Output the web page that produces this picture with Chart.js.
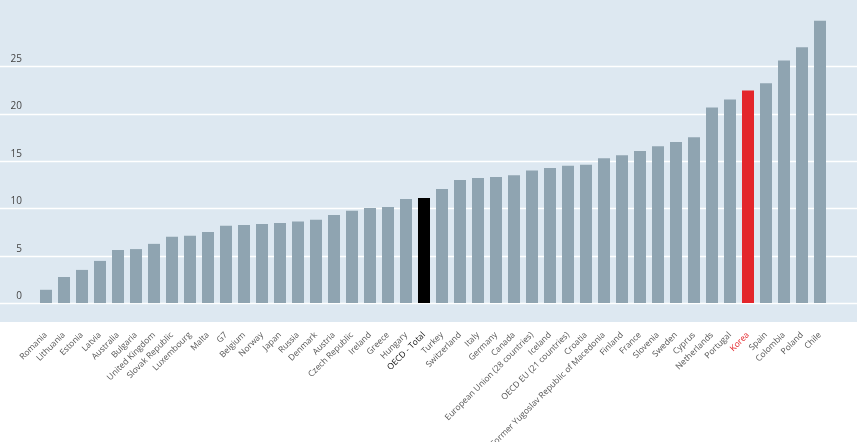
<!DOCTYPE html>
<html>
<head>
<meta charset="utf-8">
<script src="https://cdn.jsdelivr.net/npm/chart.js@4"></script>
<style>
  html, body { margin: 0; padding: 0; background: #fff; }
  #wrap { width: 857px; height: 442px; }
</style>
</head>
<body>
<div id="wrap"><canvas id="chart"></canvas></div>
<script>
// data
const countries = [
  'Romania', 'Lithuania', 'Estonia', 'Latvia', 'Australia', 'Bulgaria',
  'United Kingdom', 'Slovak Republic', 'Luxembourg', 'Malta', 'G7', 'Belgium',
  'Norway', 'Japan', 'Russia', 'Denmark', 'Austria', 'Czech Republic',
  'Ireland', 'Greece', 'Hungary', 'OECD - Total', 'Turkey', 'Switzerland',
  'Italy', 'Germany', 'Canada', 'European Union (28 countries)', 'Iceland',
  'OECD EU (21 countries)', 'Croatia', 'Former Yugoslav Republic of Macedonia',
  'Finland', 'France', 'Slovenia', 'Sweden', 'Cyprus', 'Netherlands',
  'Portugal', 'Korea', 'Spain', 'Colombia', 'Poland', 'Chile'
];
const values = [
  1.4, 2.75, 3.5, 4.45, 5.6, 5.7,
  6.25, 7.0, 7.1, 7.5, 8.15, 8.25,
  8.35, 8.45, 8.6, 8.8, 9.3, 9.75,
  10.05, 10.15, 11.0, 11.1, 12.05, 13.0,
  13.2, 13.3, 13.5, 14.0, 14.25,
  14.5, 14.6, 15.3,
  15.6, 16.05, 16.55, 17.0, 17.5, 20.65,
  21.5, 22.45, 23.2, 25.6, 27.0, 29.8
];
const yTicks = [0, 5, 10, 15, 20, 25];
const highlightRed = 'Korea';
const highlightBlack = 'OECD - Total';

const barColor = c => c === highlightRed ? '#e3262b' : (c === highlightBlack ? '#000000' : '#8fa4b1');
const labelColor = c => c === highlightRed ? '#e3262b' : (c === highlightBlack ? '#111111' : '#555555');

// light blue panel + white gridlines across the full width
const panel = {
  id: 'panel',
  beforeDraw(chart) {
    const { ctx, chartArea, scales } = chart;
    ctx.save();
    ctx.fillStyle = '#dde8f1';
    ctx.fillRect(0, 0, chart.width, chartArea.bottom);
    ctx.strokeStyle = '#ffffff';
    ctx.lineWidth = 1.5;
    yTicks.forEach(v => {
      const y = Math.round(scales.y.getPixelForValue(v)) + 0.5;
      ctx.beginPath();
      ctx.moveTo(0, y);
      ctx.lineTo(chart.width, y);
      ctx.stroke();
    });
    ctx.restore();
  }
};

const ctx = document.getElementById('chart').getContext('2d');
new Chart(ctx, {
  type: 'bar',
  data: {
    labels: countries,
    datasets: [{
      data: values,
      backgroundColor: countries.map(barColor),
      categoryPercentage: 1,
      barPercentage: 0.667
    }]
  },
  options: {
    responsive: true,
    maintainAspectRatio: false,
    animation: false,
    layout: { autoPadding: false, padding: { top: 0, right: 28, bottom: 0, left: 0 } },
    plugins: { legend: { display: false }, tooltip: { enabled: false } },
    scales: {
      x: {
        grid: { display: false, drawTicks: false },
        border: { display: false },
        afterFit: s => { s.height = 120; },
        ticks: {
          autoSkip: false,
          minRotation: 45,
          maxRotation: 45,
          padding: 8,
          color: c => labelColor(countries[c.index]),
          font: { family: 'Open Sans', size: 8.5 }
        }
      },
      y: {
        min: -2,
        max: 32,
        grid: { display: false, drawTicks: false },
        border: { display: false },
        afterFit: s => { s.width = 37; s.paddingTop = 0; s.paddingBottom = 0; },
        afterBuildTicks: s => { s.ticks = yTicks.map(v => ({ value: v })); },
        ticks: {
          padding: 15,
          labelOffset: -7,
          color: '#444444',
          font: { family: 'Open Sans', size: 10 }
        }
      }
    }
  },
  plugins: [panel]
});
</script>
</body>
</html>
